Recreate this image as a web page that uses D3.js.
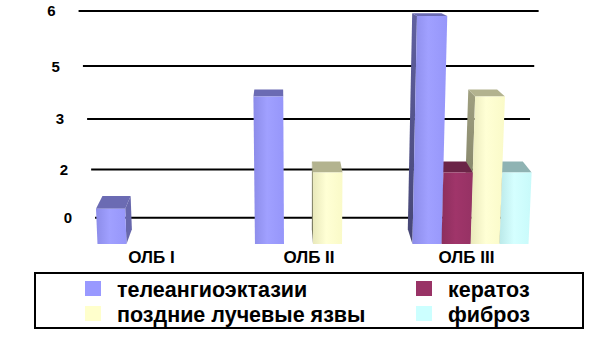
<!DOCTYPE html>
<html><head><meta charset="utf-8">
<script src="https://cdn.jsdelivr.net/npm/d3@7"></script>
<style>
body{margin:0;background:#fff}
svg{display:block}
text{font-family:"Liberation Sans",Arial,sans-serif;font-weight:bold;fill:#000}
</style>
</head><body><svg id="c" width="591" height="338"></svg>
<script>
// ---- data ----
const categories = ["ОЛБ I", "ОЛБ II", "ОЛБ III"];
const seriesNames = ["телеангиоэктазии", "кератоз", "поздние лучевые язвы", "фиброз"];
const telValues = [1, 4, 6];
const keratozValues = [0, 0, 2];
const pozdnieValues = [0, 2, 4];
const fibrozValues = [0, 0, 2];
const tickValues = [0, 1.5, 3, 4.5, 6];
const tickLabels = ["0", "2", "3", "5", "6"];
const seriesColors = ["#9999ff", "#993366", "#ffffcc", "#ccffff"];

const seriesValues = [telValues, keratozValues, pozdnieValues, fibrozValues];

// ---- layout / projection ----
const svg = d3.select("#c");
const plotL = 82.7, plotR = 538.1;     // wall extent in front-plane coords
const Y0 = 244, HT = 229.3, P = 0.084; // front-plane vertical perspective
const CX = 309, VX = 280, VY = -40, TX = 0.0625, TY = 0.092;
const barDepth = 0.56, barLean = 0.042, wallLean = 0.072;

const x0 = d3.scaleBand().domain(categories).range([76.75, 549.25])
  .paddingInner(0.263).paddingOuter(0.1317);
const x1 = d3.scaleBand().domain(seriesNames).range([0, x0.bandwidth()]).padding(0);
const yScale = d3.scaleLinear().domain([0, 6]).range([0, 1]);

function proj(X, v, z, lean) {
  const f = yScale(v);
  let y = (Y0 - HT * f) / (1 - P * f);
  let x = CX + (X - CX) / (1 - lean * f);
  x += (VX - x) * z * TX;
  y += (VY - y) * z * TY;
  return [x, y];
}

// ---- gridlines on back wall ----
const gGrid = svg.append("g");
tickValues.forEach((t, i) => {
  const a = proj(plotL, t, 1, wallLean), b = proj(plotR, t, 1, wallLean);
  gGrid.append("line").attr("x1", a[0]).attr("y1", a[1]).attr("x2", b[0]).attr("y2", b[1])
    .attr("stroke", "#000").attr("stroke-width", 2);
  gGrid.append("text").attr("x", a[0] - 23).attr("y", a[1]).attr("dy", "0.36em")
    .attr("text-anchor", "end").attr("font-size", 15).text(tickLabels[i]);
});

// ---- gradients ----
const defs = svg.append("defs");
seriesColors.forEach((c, j) => {
  const col = d3.color(c);
  const g = defs.append("linearGradient").attr("id", "fg" + j).attr("x1", 0).attr("x2", 1).attr("y1", 0).attr("y2", 0);
  g.append("stop").attr("offset", "0%").attr("stop-color", col.darker(0.25));
  g.append("stop").attr("offset", "45%").attr("stop-color", col.brighter(0.12));
  g.append("stop").attr("offset", "100%").attr("stop-color", col.darker(0.05));
  const s = defs.append("linearGradient").attr("id", "sg" + j).attr("x1", 0).attr("x2", 0).attr("y1", 0).attr("y2", 1);
  s.append("stop").attr("offset", "0%").attr("stop-color", col.darker(1.3));
  s.append("stop").attr("offset", "100%").attr("stop-color", col.darker(2.2));
});

// ---- bars ----
const bars = [];
categories.forEach((cat, i) => {
  seriesNames.forEach((name, j) => {
    const v = seriesValues[j][i];
    if (v > 0) {
      const Xa = x0(cat) + x1(name), Xb = Xa + x1.bandwidth();
      bars.push({ Xa, Xb, v, j });
    }
  });
});
bars.sort((a, b) => Math.abs((b.Xa + b.Xb) / 2 - VX) - Math.abs((a.Xa + a.Xb) / 2 - VX));

const gBars = svg.append("g");
const poly = pts => pts.map(p => p.join(",")).join(" ");
bars.forEach(b => {
  const col = d3.color(seriesColors[b.j]);
  const FBL = proj(b.Xa, 0, 0, barLean), FBR = proj(b.Xb, 0, 0, barLean);
  const FTL = proj(b.Xa, b.v, 0, barLean), FTR = proj(b.Xb, b.v, 0, barLean);
  const BTL = proj(b.Xa, b.v, barDepth, barLean), BTR = proj(b.Xb, b.v, barDepth, barLean);
  const BBL = proj(b.Xa, 0, barDepth, barLean), BBR = proj(b.Xb, 0, barDepth, barLean);
  const g = gBars.append("g");
  if (BTL[0] < FTL[0]) {
    g.append("polygon").attr("points", poly([FBL, FTL, BTL, BBL])).attr("fill", `url(#sg${b.j})`);
  }
  if (BTR[0] > FTR[0]) {
    g.append("polygon").attr("points", poly([FBR, FTR, BTR, BBR])).attr("fill", col.darker(1.1));
  }
  g.append("polygon").attr("points", poly([FTL, FTR, BTR, BTL])).attr("fill", col.darker(1));
  g.append("polygon").attr("points", poly([FBL, FBR, FTR, FTL])).attr("fill", `url(#fg${b.j})`);
});

// ---- category labels ----
categories.forEach(cat => {
  svg.append("text").attr("x", x0(cat) + x0.bandwidth() / 2 - 4).attr("y", 263)
    .attr("text-anchor", "middle").attr("font-size", 17).text(cat);
});

// ---- legend ----
const lg = svg.append("g");
lg.append("rect").attr("x", 35).attr("y", 273).attr("width", 548).attr("height", 55)
  .attr("fill", "#fff").attr("stroke", "#000").attr("stroke-width", 2);
seriesNames.forEach((name, j) => {
  const col = j % 2, row = Math.floor(j / 2);
  const sx = col === 0 ? 85 : 416, ty = 289 + row * 25;
  lg.append("rect").attr("x", sx).attr("y", ty - 8).attr("width", 16).attr("height", 15)
    .attr("fill", seriesColors[j]);
  lg.append("text").attr("x", sx + 32).attr("y", ty).attr("dy", "0.36em")
    .attr("font-size", 21.5).text(name);
});
</script>
</body></html>
